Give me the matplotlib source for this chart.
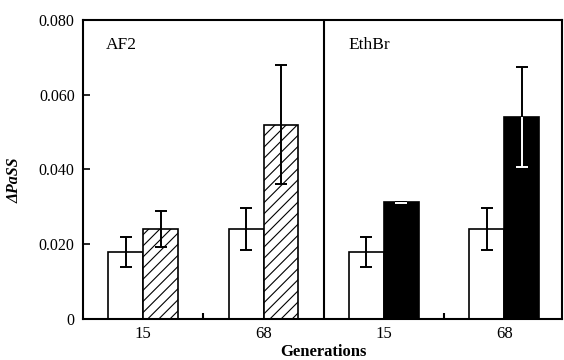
import matplotlib.pyplot as plt
import numpy as np

plt.rcParams['font.family'] = ['Liberation Serif', 'DejaVu Serif']
plt.rcParams['hatch.linewidth'] = 0.8
plt.rcParams['hatch.color'] = '#444444'

# data
panels = ['AF2', 'EthBr']
generations = ['15', '68', '15', '68']
control = [0.018, 0.024, 0.018, 0.024]
control_err = [0.004, 0.0056, 0.004, 0.0056]
treated = [0.024, 0.052, 0.0312, 0.054]
treated_err = [0.0048, 0.016, 0.0002, 0.0133]

fig = plt.figure(figsize=(5.64, 3.6), dpi=100)
ax = fig.add_axes([83/564, 1 - 319/360, (562-83)/564, (319-20)/360])

x = np.arange(len(generations))
w = 0.29

ax.bar(x - w/2, control, w, color='white', edgecolor='black', linewidth=1.2, zorder=2)
ax.bar(x[:2] + w/2, treated[:2], w, color='white', edgecolor='black', linewidth=1.2,
       hatch='///', zorder=2)
ax.bar(x[2:] + w/2, treated[2:], w, color='black', edgecolor='black', linewidth=1.2, zorder=2)

ekw = dict(fmt='none', capsize=4.5, elinewidth=1.4, capthick=1.4, zorder=3)
ax.errorbar(x - w/2, control, yerr=control_err, ecolor='black', **ekw)
ax.errorbar(x[:2] + w/2, treated[:2], yerr=treated_err[:2], ecolor='black', **ekw)

# black bars: part above the bar in black, part inside the bar in white
cap = 0.05
xb = x[2:] + w/2
tb = np.array(treated[2:])
eb = np.array(treated_err[2:])
ax.vlines(xb, tb, tb + eb, color='black', linewidth=1.4, zorder=3)
ax.hlines(tb + eb, xb - cap, xb + cap, color='black', linewidth=1.4, zorder=3)
ax.vlines(xb, tb - eb, tb, color='white', linewidth=1.4, zorder=3)
ax.hlines(tb - eb, xb - cap, xb + cap, color='white', linewidth=1.4, zorder=3)

ax.axvline(1.5, color='black', linewidth=1.5, zorder=4)

ax.set_xlim(-0.5, 3.48)
ax.set_ylim(0, 0.080)
ax.set_yticks([0, 0.02, 0.04, 0.06, 0.08])
ax.set_yticklabels(['0', '0.020', '0.040', '0.060', '0.080'], fontsize=11.5)
ax.set_xticks([0.5, 2.5])
ax.set_xticklabels([])
ax.set_xticks(x, minor=True)
ax.set_xticklabels(generations, minor=True, fontsize=12)
ax.tick_params(axis='x', which='minor', length=0, pad=5)
ax.tick_params(axis='x', which='major', direction='in', length=4, width=1.5)
ax.tick_params(axis='y', direction='in', length=5, width=1.2, pad=6)
for s in ax.spines.values():
    s.set_linewidth(1.5)

fig.text(106/564, 1 - 45/360, panels[0], fontsize=12.5, va='center')
fig.text(348/564, 1 - 45/360, panels[1], fontsize=12.5, va='center')

fig.text(15/564, 1 - 180/360, 'ΔPaSS', rotation=90, fontsize=11.5,
         fontweight='bold', fontstyle='italic', ha='center', va='center')
fig.text(323/564, 1 - 352/360, 'Generations', fontsize=12, fontweight='bold',
         ha='center', va='center')

fig.savefig('out.png', dpi=100)
